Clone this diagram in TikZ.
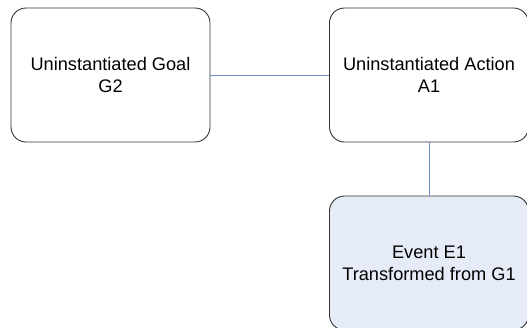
\documentclass[tikz,border=0pt]{standalone}
\usepackage{fontspec}
\setmainfont{Liberation Sans}
\definecolor{boxline}{HTML}{333333}
\definecolor{linkblue}{HTML}{6E93D2}
\definecolor{eventfill}{HTML}{E6ECF7}
\begin{document}
\begin{tikzpicture}[x=1pt,y=-1pt,
  statebox/.style={draw=boxline, line width=0.9pt, rounded corners=15pt,
    minimum width=199pt, minimum height=134pt, inner sep=0pt,
    align=center, font=\fontsize{18.2}{22}\selectfont},
  eventbox/.style={statebox, fill=eventfill},
  link/.style={draw=linkblue, line width=1pt}]
  \useasboundingbox (0,0) rectangle (527,327);
  \clip (0,0) rectangle (527,327);
  \node[statebox] (goal) at (110.5,75) {Uninstantiated Goal\\G2};
  \node[statebox] (action) at (429,75) {Uninstantiated Action\\A1};
  \node[eventbox] (event) at (429,263) {Event E1\\Transformed from G1};
  \draw[link] (goal.east) -- (action.west);
  \draw[link] (action.south) -- (event.north);
\end{tikzpicture}
\end{document}
